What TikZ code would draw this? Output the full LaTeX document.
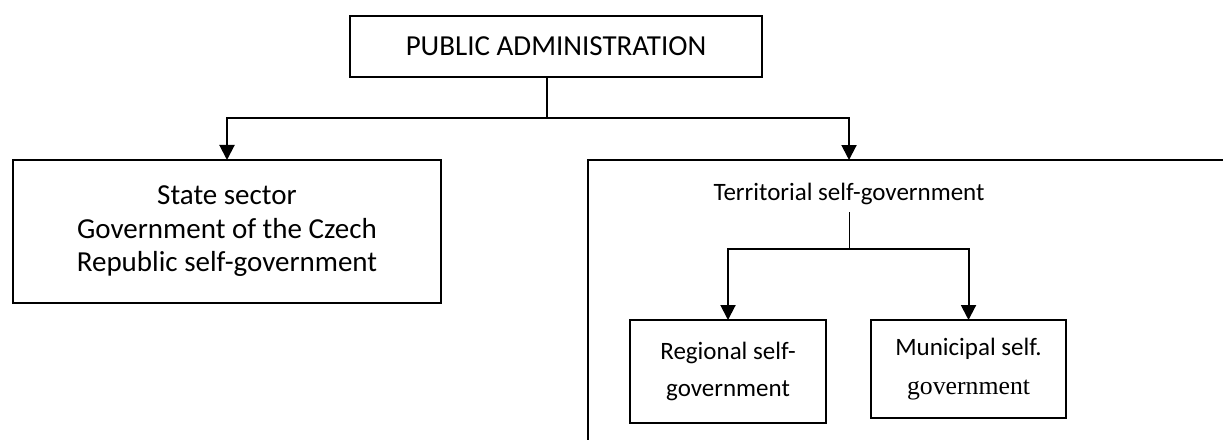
\documentclass[tikz,border=0pt]{standalone}
\usepackage{fontspec}
\setmainfont{Carlito}
\newfontfamily\timesfont{Liberation Serif}
\usetikzlibrary{
	arrows.meta,
	calc}

\begin{document}
\begin{tikzpicture}[x=0.4pt,y=-0.4pt,every text node part/.style={align=center},
		>={Triangle[length=6pt,width=6pt]}]
		\tikzstyle{block}=[rectangle,draw,line width=0.8pt,
							inner sep=0pt, outer sep=0pt]
		\tikzstyle{big}=[font=\fontsize{11.6pt}{13.4pt}\selectfont]
		\tikzstyle{small}=[font=\fontsize{10pt}{14.6pt}\selectfont]
		\tikzstyle{link}=[line width=0.8pt]

		\useasboundingbox (0,0) rectangle (1223,439);
		\clip (0,0) rectangle (1223,439);

		% top
		\node[block,big,minimum width=164.8pt,minimum height=24.4pt] (pa) at (556,46.5) {PUBLIC ADMINISTRATION};
		\coordinate (split) at (547,118);

		% state
		\node[block,big,minimum width=171.2pt,minimum height=57.2pt] (state) at (227,231.5) {State sector\\Government of the Czech\\Republic self-government};

		% territorial
		\node[block,anchor=north west,minimum width=300pt,minimum height=140pt] (tbox) at (588,160) {};
		\node[small,inner sep=0pt] (terr) at (849,194) {Territorial self-government};
		\coordinate (tsplit) at (849,249);

		\node[block,small,minimum width=78.4pt,minimum height=41.2pt] (reg) at (728,371.5) {Regional self-\\government};
		\node[block,small,minimum width=78pt,minimum height=39.2pt] (mun) at (968.5,369) {Municipal self.\\[0.7pt]{\timesfont\fontsize{10.3pt}{14.6pt}\selectfont government}};

		% edges
		\draw[link] (pa.south -| split) -- (split);
		\draw[link,->] (split) -| (state.north);
		\draw[link,->] (split) -| (tbox.north -| terr);

		\draw[line width=0.4pt] ($(terr.south)+(0,7)$) -- (tsplit);
		\draw[link,->] (tsplit) -| (reg.north);
		\draw[link,->] (tsplit) -| (mun.north);

	\end{tikzpicture}
\end{document}
